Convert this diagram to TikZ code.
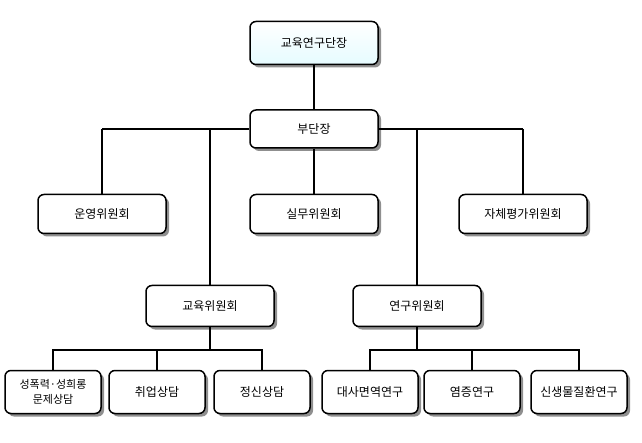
\documentclass[tikz,border=0pt]{standalone}
\usepackage{fontspec}
\setmainfont{Noto Sans CJK KR}
\usetikzlibrary{shadows}
\begin{document}
\begin{tikzpicture}[x=1pt,y=-1pt,
 box/.style={draw=black,line width=1.5pt,rounded corners=6pt,fill=white,
  drop shadow={shadow xshift=3pt,shadow yshift=-3pt,fill=black!55,opacity=.8},
  minimum width=#1,inner sep=2pt,font=\fontsize{12}{15}\selectfont,align=center},
 box/.default=128pt,
 ln/.style={line width=1.5pt}]
\useasboundingbox (0,0) rectangle (642,443);
\node[box,minimum height=43pt,top color=white,bottom color=blue!15!cyan!10] (top) at (314,43) {교육연구단장};
\node[box,minimum height=38pt] (bu) at (314,129) {부단장};
\node[box,minimum height=39pt] (un) at (102,214) {운영위원회};
\node[box,minimum height=39pt] (sil) at (314,214) {실무위원회};
\node[box,minimum height=39pt] (ja) at (523,214) {자체평가위원회};
\node[box,minimum height=41pt] (edu) at (210,306) {교육위원회};
\node[box,minimum height=41pt] (res) at (417,306) {연구위원회};
\node[box=96pt,minimum height=43pt,font=\fontsize{11}{15}\selectfont] (b1) at (53,392) {성폭력·성희롱\\문제상담};
\node[box=96pt,minimum height=43pt] (b2) at (157,392) {취업상담};
\node[box=96pt,minimum height=43pt] (b3) at (262,392) {정신상담};
\node[box=96pt,minimum height=43pt] (b4) at (370,392) {대사면역연구};
\node[box=96pt,minimum height=43pt] (b5) at (472,392) {염증연구};
\node[box=96pt,minimum height=43pt] (b6) at (579,392) {신생물질환연구};
\coordinate (hl) at (102,129); \coordinate (hr) at (523,129);
\draw[ln] (top) -- (bu);
\draw[ln] (hl) -- (bu.west);
\draw[ln] (bu.east) -- (hr);
\draw[ln] (hl) -- (un.north);
\draw[ln] (hr) -- (ja.north);
\draw[ln] (bu) -- (sil);
\draw[ln] (210,129) -- (edu.north);
\draw[ln] (417,129) -- (res.north);
\draw[ln] (edu.south) -- (210,350);
\draw[ln] (b1.north) |- (210,350) -| (b3.north);
\draw[ln] (b2.north) -- (157,350);
\draw[ln] (res.south) -- (417,350);
\draw[ln] (b4.north) |- (417,350) -| (b6.north);
\draw[ln] (b5.north) -- (472,350);
\end{tikzpicture}
\end{document}
